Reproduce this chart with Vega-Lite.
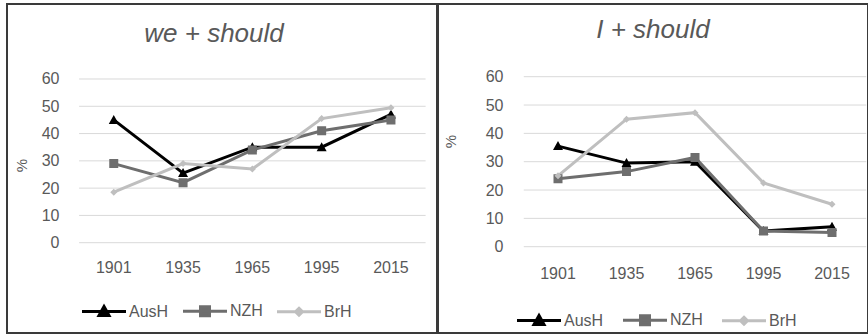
{
  "$schema": "https://vega.github.io/schema/vega-lite/v6.json",
  "padding": {"left": 6, "top": 3, "right": 0, "bottom": 0},
  "spacing": -2,
  "background": "white",
  "config": {
    "font": "Liberation Sans",
    "view": {"stroke": "#3a3a3a", "strokeWidth": 2},
    "axis": {"labelColor": "#595959", "labelFontSize": 16, "ticks": false, "domain": false, "grid": false, "labelPadding": 0, "titleColor": "#595959", "titleFontWeight": "normal", "titleFontSize": 15},
    "legend": {"labelColor": "#595959", "labelFontSize": 16, "symbolSize": 100, "symbolStrokeWidth": 3},
    "title": {"fontSize": 26, "fontStyle": "italic", "fontWeight": "normal", "color": "#595959", "anchor": "middle", "frame": "group", "baseline": "alphabetic"}
  },
  "datasets": {
    "main": [
      {"panel": "we", "series": "AusH", "year": "1901", "value": 45},
      {"panel": "we", "series": "AusH", "year": "1935", "value": 25.5},
      {"panel": "we", "series": "AusH", "year": "1965", "value": 35},
      {"panel": "we", "series": "AusH", "year": "1995", "value": 35},
      {"panel": "we", "series": "AusH", "year": "2015", "value": 47},
      {"panel": "we", "series": "NZH", "year": "1901", "value": 29},
      {"panel": "we", "series": "NZH", "year": "1935", "value": 22},
      {"panel": "we", "series": "NZH", "year": "1965", "value": 34},
      {"panel": "we", "series": "NZH", "year": "1995", "value": 41},
      {"panel": "we", "series": "NZH", "year": "2015", "value": 45},
      {"panel": "we", "series": "BrH", "year": "1901", "value": 18.5},
      {"panel": "we", "series": "BrH", "year": "1935", "value": 29},
      {"panel": "we", "series": "BrH", "year": "1965", "value": 27},
      {"panel": "we", "series": "BrH", "year": "1995", "value": 45.5},
      {"panel": "we", "series": "BrH", "year": "2015", "value": 49.5},
      {"panel": "I", "series": "AusH", "year": "1901", "value": 35.5},
      {"panel": "I", "series": "AusH", "year": "1935", "value": 29.5},
      {"panel": "I", "series": "AusH", "year": "1965", "value": 30},
      {"panel": "I", "series": "AusH", "year": "1995", "value": 5.5},
      {"panel": "I", "series": "AusH", "year": "2015", "value": 7},
      {"panel": "I", "series": "NZH", "year": "1901", "value": 24},
      {"panel": "I", "series": "NZH", "year": "1935", "value": 26.5},
      {"panel": "I", "series": "NZH", "year": "1965", "value": 31.5},
      {"panel": "I", "series": "NZH", "year": "1995", "value": 5.5},
      {"panel": "I", "series": "NZH", "year": "2015", "value": 5},
      {"panel": "I", "series": "BrH", "year": "1901", "value": 25},
      {"panel": "I", "series": "BrH", "year": "1935", "value": 45},
      {"panel": "I", "series": "BrH", "year": "1965", "value": 47.3},
      {"panel": "I", "series": "BrH", "year": "1995", "value": 22.5},
      {"panel": "I", "series": "BrH", "year": "2015", "value": 15}
    ],
    "grid": [{"g": 0}, {"g": 10}, {"g": 20}, {"g": 30}, {"g": 40}, {"g": 50}, {"g": 60}]
  },
  "hconcat": [
    {
      "width": 430,
      "height": 329,
      "title": {"text": "we + should", "offset": -43, "dx": -8},
      "layer": [
        {
          "data": {"name": "grid"},
          "mark": {"type": "rule", "color": "#d9d9d9", "strokeWidth": 1},
          "encoding": {
            "y": {"field": "g", "type": "quantitative", "scale": {"domain": [-33.1, 87.49], "nice": false, "zero": false},
                  "axis": {"values": [0, 10, 20, 30, 40, 50, 60], "offset": -52, "title": "%", "titleX": -38, "titleY": 161, "titleBaseline": "middle", "titleAlign": "center", "labelBaseline": "middle"}},
            "x": {"datum": "1901", "type": "ordinal", "bandPosition": 0},
            "x2": {"datum": "2015", "bandPosition": 1}
          }
        },
        {
          "data": {"name": "main"},
          "transform": [{"filter": "datum.panel === 'we'"}],
          "mark": {"type": "line"},
          "encoding": {
            "x": {"field": "year", "type": "ordinal", "bandPosition": 0.5,
                  "scale": {"type": "band", "domain": ["1901", "1935", "1965", "1995", "2015"], "paddingInner": 0, "paddingOuter": 0.6025, "align": 0.8635},
                  "axis": {"offset": -65.5, "bandPosition": 0.5, "labelAlign": "center", "labelBaseline": "middle", "labelAngle": 0, "title": null}},
            "y": {"field": "value", "type": "quantitative"},
            "color": {"field": "series", "type": "nominal", "scale": {"domain": ["AusH", "NZH", "BrH"], "range": ["#000000", "#6e6e6e", "#bfbfbf"]}, "legend": null},
            "strokeWidth": {"field": "series", "type": "ordinal", "scale": {"domain": ["AusH", "NZH", "BrH"], "range": [3, 3, 2]}, "legend": null}
          }
        },
        {
          "data": {"name": "main"},
          "transform": [{"filter": "datum.panel === 'we'"}],
          "mark": {"type": "point", "filled": true, "size": 100, "opacity": 1},
          "encoding": {
            "x": {"field": "year", "type": "ordinal", "bandPosition": 0.5},
            "y": {"field": "value", "type": "quantitative"},
            "fill": {"field": "series", "type": "nominal", "scale": {"domain": ["AusH", "NZH", "BrH"], "range": ["#000000", "#6e6e6e", "#bfbfbf"]},
                     "legend": {"orient": "none", "legendX": 89, "legendY": 299, "direction": "horizontal", "title": null, "labelOffset": 17, "columnPadding": 8}},
            "stroke": {"field": "series", "type": "nominal", "scale": {"domain": ["AusH", "NZH", "BrH"], "range": ["#000000", "#6e6e6e", "#bfbfbf"]},
                     "legend": {"orient": "none", "legendX": 89, "legendY": 299, "direction": "horizontal", "title": null, "labelOffset": 17, "columnPadding": 8}},
            "shape": {"field": "series", "type": "nominal", "scale": {"domain": ["AusH", "NZH", "BrH"], "range": ["M-4.4,0L4.4,0M0,-1L1,0.8L-1,0.8Z", "M-4.4,0L4.4,0M-0.9,-0.9L0.9,-0.9L0.9,0.9L-0.9,0.9Z", "M-4.4,0L4.4,0M0,-0.7L0.7,0L0,0.7L-0.7,0Z"]},
                     "legend": {"orient": "none", "legendX": 89, "legendY": 299, "direction": "horizontal", "title": null, "labelOffset": 17, "columnPadding": 8}},
            "strokeOpacity": {"value": 0}
          }
        }
      ]
    },
    {
      "width": 430,
      "height": 329,
      "title": {"text": "I + should", "offset": -39},
      "layer": [
        {
          "data": {"name": "grid"},
          "mark": {"type": "rule", "color": "#d9d9d9", "strokeWidth": 1},
          "encoding": {
            "y": {"field": "g", "type": "quantitative", "scale": {"domain": [-30.46, 85.66], "nice": false, "zero": false},
                  "axis": {"values": [0, 10, 20, 30, 40, 50, 60], "offset": -65, "title": "%", "titleX": -53, "titleY": 137, "titleBaseline": "middle", "titleAlign": "center", "labelBaseline": "middle"}},
            "x": {"datum": "1901", "type": "ordinal", "bandPosition": 0},
            "x2": {"datum": "2015", "bandPosition": 1}
          }
        },
        {
          "data": {"name": "main"},
          "transform": [{"filter": "datum.panel === 'I'"}],
          "mark": {"type": "line"},
          "encoding": {
            "x": {"field": "year", "type": "ordinal", "bandPosition": 0.5,
                  "scale": {"type": "band", "domain": ["1901", "1935", "1965", "1995", "2015"], "paddingInner": 0, "paddingOuter": 0.6387, "align": 0.98},
                  "axis": {"offset": -60, "bandPosition": 0.5, "labelAlign": "center", "labelBaseline": "middle", "labelAngle": 0, "title": null}},
            "y": {"field": "value", "type": "quantitative"},
            "color": {"field": "series", "type": "nominal", "scale": {"domain": ["AusH", "NZH", "BrH"], "range": ["#000000", "#6e6e6e", "#bfbfbf"]}, "legend": null},
            "strokeWidth": {"field": "series", "type": "ordinal", "scale": {"domain": ["AusH", "NZH", "BrH"], "range": [3, 3, 2]}, "legend": null}
          }
        },
        {
          "data": {"name": "main"},
          "transform": [{"filter": "datum.panel === 'I'"}],
          "mark": {"type": "point", "filled": true, "size": 100, "opacity": 1},
          "encoding": {
            "x": {"field": "year", "type": "ordinal", "bandPosition": 0.5},
            "y": {"field": "value", "type": "quantitative"},
            "fill": {"field": "series", "type": "nominal", "scale": {"domain": ["AusH", "NZH", "BrH"], "range": ["#000000", "#6e6e6e", "#bfbfbf"]},
                     "legend": {"orient": "none", "legendX": 93, "legendY": 308, "direction": "horizontal", "title": null, "labelOffset": 17, "columnPadding": 13}},
            "stroke": {"field": "series", "type": "nominal", "scale": {"domain": ["AusH", "NZH", "BrH"], "range": ["#000000", "#6e6e6e", "#bfbfbf"]},
                     "legend": {"orient": "none", "legendX": 93, "legendY": 308, "direction": "horizontal", "title": null, "labelOffset": 17, "columnPadding": 13}},
            "shape": {"field": "series", "type": "nominal", "scale": {"domain": ["AusH", "NZH", "BrH"], "range": ["M-4.4,0L4.4,0M0,-1L1,0.8L-1,0.8Z", "M-4.4,0L4.4,0M-0.9,-0.9L0.9,-0.9L0.9,0.9L-0.9,0.9Z", "M-4.4,0L4.4,0M0,-0.7L0.7,0L0,0.7L-0.7,0Z"]},
                     "legend": {"orient": "none", "legendX": 93, "legendY": 308, "direction": "horizontal", "title": null, "labelOffset": 17, "columnPadding": 13}},
            "strokeOpacity": {"value": 0}
          }
        }
      ]
    }
  ],
  "resolve": {
    "scale": {"x": "independent", "y": "independent"},
    "legend": {"fill": "independent", "stroke": "independent", "shape": "independent"}
  }
}
